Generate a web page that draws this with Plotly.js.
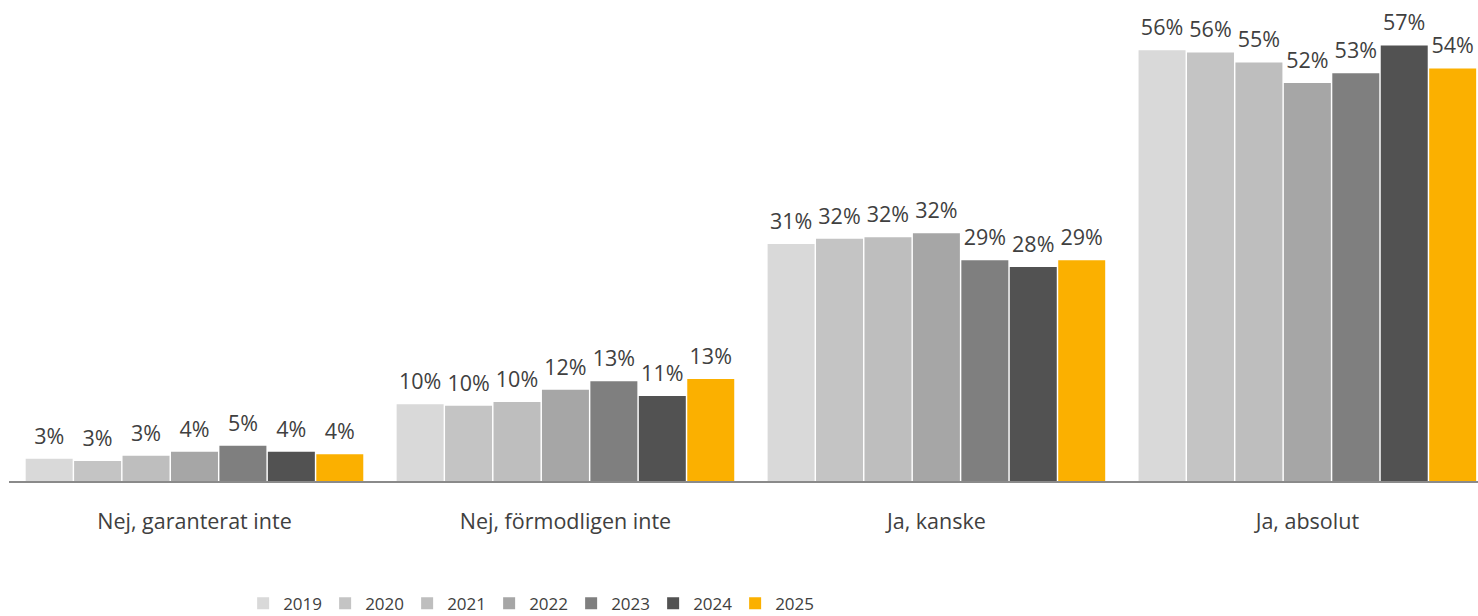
<!DOCTYPE html>
<html>
<head>
<meta charset="utf-8">
<script src="https://cdn.plot.ly/plotly-3.0.1.min.js"></script>
<style>html,body{margin:0;padding:0;background:#fff;}#chart{width:1478px;height:616px;}</style>
</head>
<body>
<div id="chart"></div>
<script>
const categories = ["Nej, garanterat inte", "Nej, förmodligen inte", "Ja, kanske", "Ja, absolut"];
const years = ["2019", "2020", "2021", "2022", "2023", "2024", "2025"];
const v2019 = [2.9, 10.0, 30.9, 56.2];
const v2020 = [2.6, 9.8, 31.6, 55.9];
const v2021 = [3.3, 10.3, 31.8, 54.6];
const v2022 = [3.8, 11.9, 32.3, 51.9];
const v2023 = [4.6, 13.0, 28.8, 53.2];
const v2024 = [3.8, 11.1, 27.9, 56.8];
const v2025 = [3.5, 13.3, 28.8, 53.8];
const series = [v2019, v2020, v2021, v2022, v2023, v2024, v2025];
const colors = ["#d9d9d9", "#c4c4c4", "#bebebe", "#a6a6a6", "#7f7f7f", "#525252", "#fbb000"];

const FONT = "Open Sans, sans-serif";
const bars = series.map((vals, i) => ({
  type: "bar",
  name: years[i],
  x: categories,
  y: vals,
  offsetgroup: years[i],
  marker: {color: colors[i], line: {width: 0}},
  cliponaxis: false,
  hoverinfo: "skip"
}));
const labels = series.map((vals, i) => ({
  type: "scatter",
  mode: "markers+text",
  name: years[i] + " labels",
  showlegend: false,
  x: categories,
  y: vals,
  offsetgroup: years[i],
  marker: {size: 14, opacity: 0, color: colors[i]},
  text: vals.map(v => Math.round(v) + "%"),
  textposition: "top center",
  textfont: {family: FONT, size: 21.5, color: "#404040"},
  cliponaxis: false,
  hoverinfo: "skip"
}));

const layout = {
  width: 1478, height: 616,
  margin: {l: 9, r: 0, t: 21, b: 135},
  paper_bgcolor: "#fff", plot_bgcolor: "#fff",
  barmode: "group",
  bargap: 0.086,
  bargroupgap: 0.03,
  scattermode: "group",
  scattergap: 0.086,
  showlegend: true,
  legend: {
    orientation: "h", xref: "container", yref: "container",
    x: 0.1645, xanchor: "left", y: 0.02, yanchor: "middle",
    font: {family: FONT, size: 17, color: "#404040"},
    entrywidth: 37, traceorder: "normal", itemwidth: 30
  },
  xaxis: {
    type: "category",
    range: [-0.5, 3.46],
    showline: true, linecolor: "#8a8a8a", linewidth: 2,
    ticks: "outside", ticklen: 20, tickcolor: "rgba(0,0,0,0)",
    tickfont: {family: FONT, size: 21.5, color: "#404040"},
    showgrid: false, zeroline: false, fixedrange: true, automargin: false
  },
  yaxis: {
    range: [0, 60],
    visible: false, showgrid: false, zeroline: false, fixedrange: true, automargin: false
  }
};

Plotly.newPlot("chart", bars.concat(labels), layout, {displayModeBar: false, staticPlot: true});
</script>
</body>
</html>
